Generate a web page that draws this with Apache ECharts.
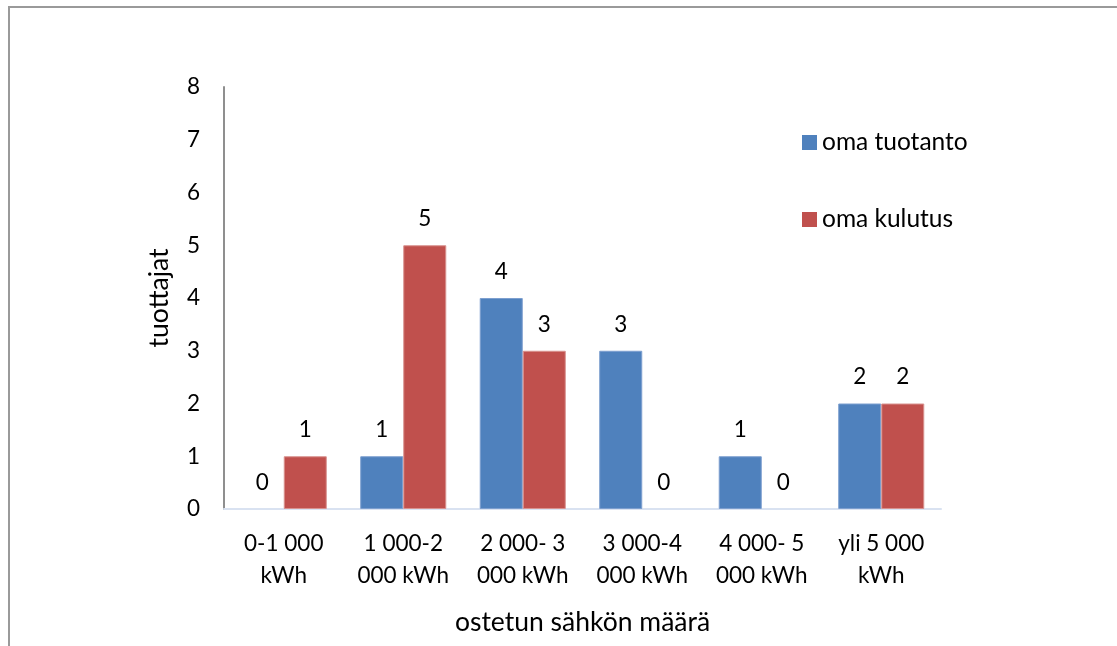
<!DOCTYPE html>
<html>
<head>
<meta charset="utf-8">
<script src="https://cdn.jsdelivr.net/npm/echarts@6/dist/echarts.min.js"></script>
<style>
  html, body { margin: 0; padding: 0; background: #fff; }
  #chart { width: 1117px; height: 646px; }
</style>
</head>
<body>
<div id="chart"></div>
<script>
// Purchased electricity bands (x axis)
const categories = [
  '0-1 000\nkWh',
  '1 000-2\n000 kWh',
  '2 000- 3\n000 kWh',
  '3 000-4\n000 kWh',
  '4 000- 5\n000 kWh',
  'yli 5 000\nkWh'
];
// Number of producers per band
const omaTuotanto = [0, 1, 4, 3, 1, 2];
const omaKulutus = [1, 5, 3, 0, 0, 2];
const yTicks = { min: 0, max: 8, interval: 1 };

const FONT = 'Lato, "Open Sans", sans-serif';

const chart = echarts.init(document.getElementById('chart'), null, { renderer: 'canvas' });

const labelStyle = {
  show: true,
  position: 'top',
  distance: 15,
  fontSize: 22.5,
  fontFamily: FONT,
  color: '#000'
};

// zero-height bars get no outline so they stay invisible
function barData(values, border) {
  return values.map(v => ({
    value: v,
    itemStyle: v === 0 ? { borderWidth: 0 } : { borderColor: border, borderWidth: 1 }
  }));
}

chart.setOption({
  backgroundColor: '#fff',
  animation: false,
  textStyle: { fontFamily: FONT },
  graphic: [{
    type: 'rect',
    shape: { x: 9, y: 7, width: 1300, height: 800 },
    style: { fill: 'none', stroke: '#9a9a9a', lineWidth: 2 },
    silent: true,
    z: -1
  }],
  legend: {
    orient: 'vertical',
    left: 802,
    top: 130,
    padding: 0,
    itemWidth: 15,
    itemHeight: 15,
    itemGap: 52,
    icon: 'rect',
    textStyle: { fontSize: 24.5, fontFamily: FONT, color: '#000' },
    data: ['oma tuotanto', 'oma kulutus']
  },
  grid: { left: 224, right: 176, top: 87, bottom: 137, containLabel: false },
  xAxis: {
    type: 'category',
    data: categories,
    name: 'ostetun sähkön määrä',
    nameLocation: 'middle',
    nameGap: 100,
    nameTextStyle: { fontSize: 26.5, fontFamily: FONT, color: '#000' },
    axisLine: { show: true, lineStyle: { color: '#d9e2f1', width: 2 } },
    axisTick: { show: false },
    axisLabel: {
      fontSize: 22.5,
      fontFamily: FONT,
      color: '#000',
      margin: 19,
      lineHeight: 32,
      interval: 0
    },
    splitLine: { show: false }
  },
  yAxis: {
    type: 'value',
    min: yTicks.min,
    max: yTicks.max,
    interval: yTicks.interval,
    name: 'tuottajat',
    nameLocation: 'middle',
    nameGap: 51,
    nameRotate: 90,
    nameTextStyle: { fontSize: 26.5, fontFamily: FONT, color: '#000' },
    axisLine: { show: true, lineStyle: { color: '#8f8f8f', width: 2 } },
    axisTick: { show: false },
    axisLabel: { fontSize: 22.5, fontFamily: FONT, color: '#000', margin: 24 },
    splitLine: { show: false }
  },
  series: [
    {
      name: 'oma tuotanto',
      type: 'bar',
      data: barData(omaTuotanto, '#7d9fcf'),
      barGap: '0%',
      barCategoryGap: '28%',
      itemStyle: { color: '#4f81bd' },
      label: labelStyle
    },
    {
      name: 'oma kulutus',
      type: 'bar',
      data: barData(omaKulutus, '#d8928f'),
      barGap: '0%',
      barCategoryGap: '28%',
      itemStyle: { color: '#c0504d' },
      label: labelStyle
    }
  ]
});
</script>
</body>
</html>
